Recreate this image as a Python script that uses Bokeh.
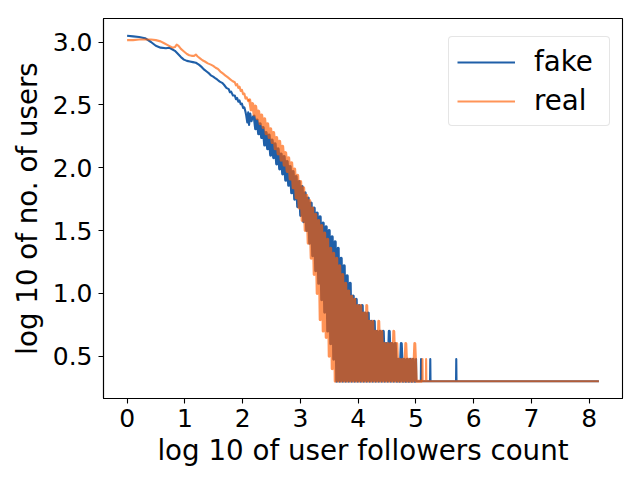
from bokeh.plotting import figure
from bokeh.models import Legend, LegendItem, FixedTicker, Range1d, NumeralTickFormatter
from bokeh.embed import file_html
from bokeh.resources import INLINE

# ---------------- data ----------------
# "fake" series: smooth head
fake_x_head = [0.0, 0.104, 0.207, 0.311, 0.414, 0.497, 0.58, 0.673, 0.725, 0.787,
               0.828, 0.87, 0.932, 0.984, 1.036, 1.087, 1.139, 1.191, 1.243, 1.294,
               1.336, 1.377, 1.419, 1.45, 1.491, 1.533, 1.564, 1.605, 1.646, 1.678,
               1.719, 1.76, 1.781, 1.802, 1.833, 1.864, 1.885, 1.905, 1.926, 1.947,
               1.967, 1.988, 2.009, 2.03, 2.05, 2.061, 2.081, 2.097, 2.112, 2.133,
               2.154, 2.175]
fake_y_head = [3.05, 3.045, 3.04, 3.03, 3.0, 2.97, 2.955, 2.95, 2.955, 2.94,
               2.93, 2.91, 2.88, 2.86, 2.85, 2.845, 2.84, 2.835, 2.82, 2.8,
               2.78, 2.765, 2.75, 2.735, 2.725, 2.71, 2.7, 2.685, 2.675, 2.66,
               2.635, 2.625, 2.6, 2.605, 2.575, 2.575, 2.545, 2.555, 2.525, 2.535,
               2.505, 2.51, 2.475, 2.48, 2.445, 2.42, 2.36, 2.44, 2.34, 2.43,
               2.37, 2.4]
# "fake" series: noisy band
fake_x_band = [2.2, 2.226, 2.252, 2.278, 2.304, 2.33, 2.356, 2.382,
               2.408, 2.434, 2.46, 2.486, 2.512, 2.538, 2.564, 2.59,
               2.616, 2.642, 2.668, 2.694, 2.72, 2.746, 2.772, 2.798,
               2.824, 2.85, 2.876, 2.902, 2.928, 2.954, 2.98, 3.006,
               3.032, 3.058, 3.084, 3.11, 3.136, 3.162, 3.188, 3.214,
               3.24, 3.266, 3.292, 3.318, 3.344, 3.37, 3.396, 3.422,
               3.448, 3.474, 3.5, 3.526, 3.552, 3.578, 3.604, 3.63,
               3.656, 3.682, 3.708, 3.734, 3.76, 3.786, 3.812, 3.838,
               3.864, 3.89, 3.916, 3.942, 3.968, 3.994, 4.02, 4.046,
               4.072, 4.098, 4.124, 4.15, 4.176, 4.202, 4.228, 4.254,
               4.28, 4.306, 4.332, 4.358, 4.384, 4.41, 4.436, 4.462,
               4.488, 4.514, 4.54, 4.566, 4.592, 4.618, 4.644, 4.67,
               4.696, 4.722, 4.748, 4.774, 4.8, 4.826, 4.852, 4.878,
               4.904, 4.93, 4.956, 4.982]
fake_y_band = [2.41, 2.31, 2.38, 2.27, 2.35, 2.24, 2.32, 2.18,
               2.28, 2.15, 2.26, 2.10, 2.22, 2.08, 2.19, 2.03,
               2.15, 1.99, 2.11, 1.95, 2.09, 1.90, 2.05, 1.86,
               2.01, 1.80, 1.97, 1.75, 1.93, 1.69, 1.89, 1.62,
               1.85, 1.57, 1.80, 1.50, 1.76, 1.40, 1.72, 1.30,
               1.68, 1.18, 1.64, 1.08, 1.61, 0.95, 1.56, 0.85,
               1.53, 0.70, 1.50, 0.60, 1.45, 0.477, 1.41, 0.301,
               1.36, 0.301, 1.28, 0.301, 1.22, 0.301, 1.14, 0.301,
               1.08, 0.301, 0.98, 0.301, 0.954, 0.301, 0.903, 0.301,
               0.903, 0.301, 0.845, 0.301, 0.845, 0.301, 0.778, 0.301,
               0.778, 0.301, 0.699, 0.301, 0.699, 0.301, 0.699, 0.301,
               0.602, 0.301, 0.699, 0.301, 0.602, 0.301, 0.602, 0.301,
               0.477, 0.301, 0.602, 0.301, 0.477, 0.301, 0.477, 0.301,
               0.477, 0.301, 0.477, 0.301]
# "fake" series: sparse tail
fake_x_tail = [5.0, 5.004, 5.008, 5.086, 5.09, 5.094, 5.246, 5.25, 5.254,
               5.696, 5.7, 5.704, 8.17]
fake_y_tail = [0.301, 0.477, 0.301, 0.301, 0.477, 0.301, 0.301, 0.477, 0.301,
               0.301, 0.477, 0.301, 0.301]

# "real" series: smooth head
real_x_head = [0.0, 0.104, 0.207, 0.311, 0.414, 0.497, 0.58, 0.642, 0.704, 0.746,
               0.787, 0.828, 0.859, 0.891, 0.932, 0.984, 1.036, 1.077, 1.118, 1.16,
               1.191, 1.222, 1.263, 1.305, 1.346, 1.398, 1.45, 1.491, 1.533, 1.574,
               1.615, 1.657, 1.698, 1.74, 1.781, 1.823, 1.864, 1.885, 1.905, 1.926,
               1.947, 1.967, 1.988, 2.009, 2.03, 2.05, 2.071, 2.097]
real_y_head = [3.015, 3.015, 3.02, 3.02, 3.02, 3.015, 3.005, 2.99, 2.975, 2.965,
               2.955, 2.96, 2.98, 2.97, 2.945, 2.925, 2.905, 2.895, 2.89, 2.89,
               2.9, 2.885, 2.87, 2.855, 2.845, 2.83, 2.82, 2.81, 2.795, 2.785,
               2.765, 2.75, 2.735, 2.72, 2.705, 2.69, 2.68, 2.655, 2.665, 2.635,
               2.645, 2.61, 2.62, 2.585, 2.59, 2.55, 2.56, 2.53]
# "real" series: noisy band
real_x_band = [2.122, 2.148, 2.174, 2.2, 2.226, 2.252, 2.278, 2.304,
               2.33, 2.356, 2.382, 2.408, 2.434, 2.46, 2.486, 2.512,
               2.538, 2.564, 2.59, 2.616, 2.642, 2.668, 2.694, 2.72,
               2.746, 2.772, 2.798, 2.824, 2.85, 2.876, 2.902, 2.928,
               2.954, 2.98, 3.006, 3.032, 3.058, 3.084, 3.11, 3.136,
               3.162, 3.188, 3.214, 3.24, 3.266, 3.292, 3.318, 3.344,
               3.37, 3.396, 3.422, 3.448, 3.474, 3.5, 3.526, 3.552,
               3.578, 3.604, 3.63, 3.656, 3.682, 3.708, 3.734, 3.76,
               3.786, 3.812, 3.838, 3.864, 3.89, 3.916, 3.942, 3.968,
               3.994, 4.02, 4.046, 4.072, 4.098, 4.124, 4.15, 4.176,
               4.202, 4.228, 4.254, 4.28, 4.306, 4.332, 4.358, 4.384,
               4.41, 4.436, 4.462, 4.488, 4.514, 4.54, 4.566, 4.592,
               4.618, 4.644, 4.67, 4.696, 4.722, 4.748, 4.774, 4.8,
               4.826, 4.852, 4.878, 4.904, 4.93, 4.956, 4.982, 5.008]
real_y_band = [2.54, 2.46, 2.51, 2.42, 2.49, 2.39, 2.45, 2.35,
               2.42, 2.32, 2.39, 2.27, 2.35, 2.24, 2.31, 2.20,
               2.28, 2.15, 2.24, 2.11, 2.21, 2.06, 2.17, 2.02,
               2.12, 1.97, 2.08, 1.91, 2.04, 1.84, 1.99, 1.76,
               1.94, 1.68, 1.89, 1.58, 1.84, 1.50, 1.78, 1.40,
               1.74, 1.28, 1.68, 1.15, 1.63, 1.00, 1.58, 0.79,
               1.54, 0.70, 1.48, 0.65, 1.43, 0.50, 1.36, 0.40,
               1.32, 0.301, 1.28, 0.301, 1.22, 0.301, 1.15, 0.301,
               1.08, 0.301, 1.02, 0.301, 0.977, 0.301, 0.954, 0.301,
               0.903, 0.301, 0.903, 0.301, 0.845, 0.301, 0.903, 0.301,
               0.778, 0.301, 0.778, 0.301, 0.699, 0.301, 0.778, 0.301,
               0.699, 0.301, 0.602, 0.301, 0.602, 0.301, 0.602, 0.301,
               0.699, 0.301, 0.602, 0.301, 0.477, 0.301, 0.477, 0.301,
               0.602, 0.301, 0.477, 0.301, 0.477, 0.301, 0.602, 0.301]
# "real" series: sparse tail
real_x_tail = [5.111, 5.115, 5.119, 5.174, 5.178, 5.182, 8.17]
real_y_tail = [0.301, 0.477, 0.301, 0.301, 0.477, 0.301, 0.301]

x_ticks = [0, 1, 2, 3, 4, 5, 6, 7, 8]
y_ticks = [0.5, 1.0, 1.5, 2.0, 2.5, 3.0]
series_names = ["fake", "real"]

# ---------------- figure ----------------
FONT = "DejaVu Sans"
FAKE_COLOR = "#1f5fa8"
REAL_COLOR = "#ff5c00"
REAL_ALPHA = 0.66

p = figure(width=632, height=471,
           x_range=Range1d(-0.4085, 8.5785), y_range=Range1d(0.164, 3.187),
           output_backend="svg", toolbar_location=None,
           min_border_left=103, min_border_right=10,
           min_border_top=18, min_border_bottom=73)
p.background_fill_color = "white"
p.border_fill_color = "white"
p.outline_line_color = "black"
p.outline_line_width = 1.1
p.xgrid.visible = False
p.ygrid.visible = False


def draw_series(xh, yh, xb, yb, xt, yt, color, alpha):
    # head and tail drawn at the normal width; the dense noisy band a bit
    # wider so that its many up/down strokes merge like the original
    r1 = p.line(xh + [xb[0]], yh + [yb[0]], line_color=color, line_alpha=alpha,
                line_width=2.1, line_join="round")
    p.line([xh[-1]] + xb + [xt[0]], [yh[-1]] + yb + [yt[0]], line_color=color,
           line_alpha=alpha, line_width=3.0, line_join="round")
    p.line(xt, yt, line_color=color, line_alpha=alpha, line_width=2.1,
           line_join="round")
    return r1


r_fake = draw_series(fake_x_head, fake_y_head, fake_x_band, fake_y_band,
                     fake_x_tail, fake_y_tail, FAKE_COLOR, 1.0)
r_real = draw_series(real_x_head, real_y_head, real_x_band, real_y_band,
                     real_x_tail, real_y_tail, REAL_COLOR, REAL_ALPHA)

for ax in (p.xaxis[0], p.yaxis[0]):
    ax.axis_line_color = "black"
    ax.axis_line_width = 1.1
    ax.major_tick_line_color = "black"
    ax.major_tick_line_width = 1.1
    ax.major_tick_out = 5
    ax.major_tick_in = 0
    ax.minor_tick_line_color = None
    ax.major_label_text_font = FONT
    ax.major_label_text_font_size = "25px"
    ax.major_label_text_color = "black"
    ax.axis_label_text_font = FONT
    ax.axis_label_text_font_size = "27.7px"
    ax.axis_label_text_font_style = "normal"
    ax.axis_label_text_color = "black"

p.xaxis.ticker = FixedTicker(ticks=x_ticks)
p.yaxis.ticker = FixedTicker(ticks=y_ticks)
p.yaxis.formatter = NumeralTickFormatter(format="0.0")
p.xaxis.axis_label = "log 10 of user followers count"
p.yaxis.axis_label = "log 10 of no. of users"
p.xaxis.major_label_standoff = 5
p.yaxis.major_label_standoff = 6
p.xaxis.axis_label_standoff = 4
p.yaxis.axis_label_standoff = 6

legend = Legend(items=[LegendItem(label=series_names[0], renderers=[r_fake]),
                       LegendItem(label=series_names[1], renderers=[r_real])],
                location=(345, 272))
legend.label_text_font = FONT
legend.label_text_font_size = "27.7px"
legend.label_text_color = "black"
legend.glyph_width = 58
legend.glyph_height = 28
legend.label_height = 28
legend.label_width = 67
legend.label_standoff = 19
legend.padding = 8
legend.spacing = 6
legend.margin = 0
legend.border_line_color = "#cccccc"
legend.border_line_width = 1
legend.background_fill_color = "white"
legend.background_fill_alpha = 0.8
if "border_radius" in legend.properties():
    legend.border_radius = 4
p.add_layout(legend)

open("out.html", "w").write(file_html(p, INLINE))
